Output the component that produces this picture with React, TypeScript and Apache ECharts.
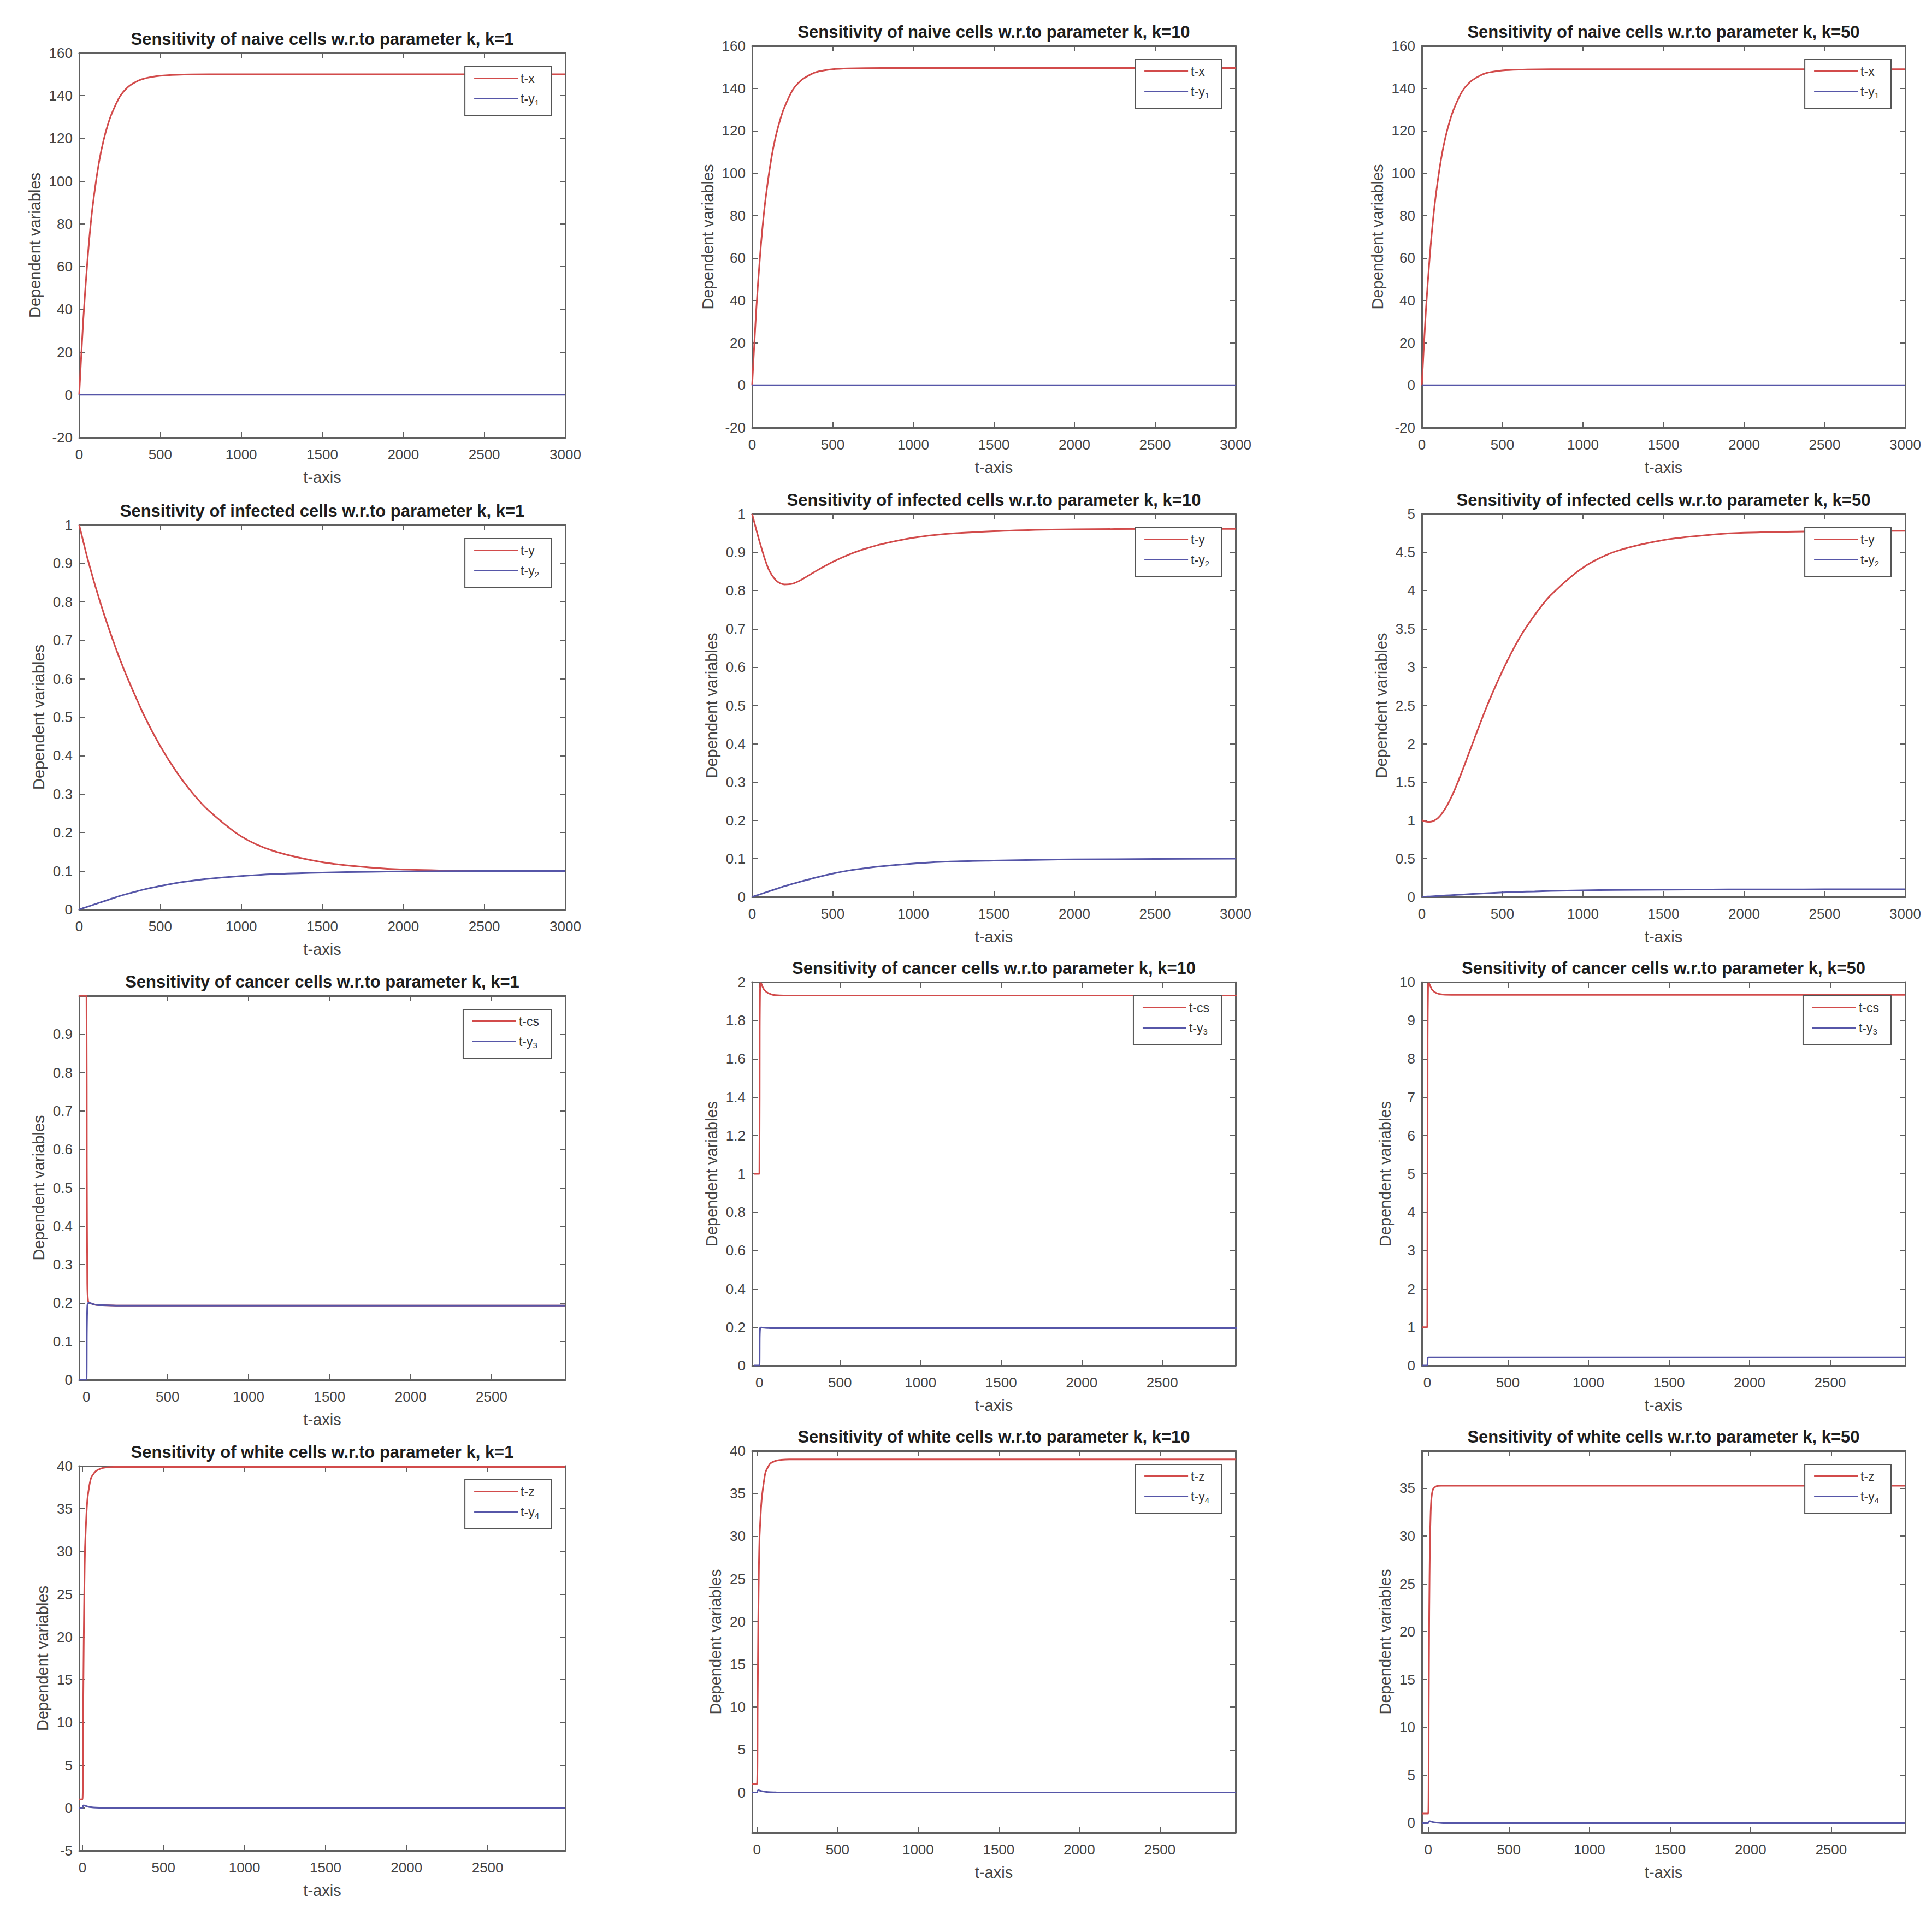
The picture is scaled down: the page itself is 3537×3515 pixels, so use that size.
import React, { useEffect, useRef } from 'react';
import * as echarts from 'echarts';

const W = 3537;
const H = 3515;

// ---------- tick labels ----------
const xTicks3000 = [0, 500, 1000, 1500, 2000, 2500, 3000];
const xTicks2500 = [0, 500, 1000, 1500, 2000, 2500];
const yTicksNaive = [-20, 0, 20, 40, 60, 80, 100, 120, 140, 160];
const yTicksInf01 = [0, 0.1, 0.2, 0.3, 0.4, 0.5, 0.6, 0.7, 0.8, 0.9, 1];
const yTicksInf50 = [0, 0.5, 1, 1.5, 2, 2.5, 3, 3.5, 4, 4.5, 5];
const yTicksCancer1 = [0, 0.1, 0.2, 0.3, 0.4, 0.5, 0.6, 0.7, 0.8, 0.9];
const yTicksCancer10 = [0, 0.2, 0.4, 0.6, 0.8, 1, 1.2, 1.4, 1.6, 1.8, 2];
const yTicksCancer50 = [0, 1, 2, 3, 4, 5, 6, 7, 8, 9, 10];
const yTicksWhite1 = [-5, 0, 5, 10, 15, 20, 25, 30, 35, 40];
const yTicksWhite10 = [0, 5, 10, 15, 20, 25, 30, 35, 40];
const yTicksWhite50 = [0, 5, 10, 15, 20, 25, 30, 35];

// ---------- row 1: naive cells ----------
const tNaive = [0, 25, 50, 75, 100, 125, 150, 175, 200, 250, 300, 350, 400, 500, 600, 800, 1000, 1500, 2000, 2500, 3000];
const naiveX_k1 = [0, 35, 62, 83, 98, 110, 119, 126, 131.5, 139.5, 144, 146.5, 148, 149.3, 149.8, 150, 150, 150, 150, 150, 150];
const naiveY1_k1 = [0, 0, 0, 0, 0, 0, 0, 0, 0, 0, 0, 0, 0, 0, 0, 0, 0, 0, 0, 0, 0];
const naiveX_k10 = [0, 35, 62, 82.5, 97.5, 109.5, 118.5, 125.5, 131, 139, 143.5, 146, 147.7, 149, 149.4, 149.6, 149.6, 149.6, 149.6, 149.6, 149.6];
const naiveY1_k10 = [0, 0, 0, 0, 0, 0, 0, 0, 0, 0, 0, 0, 0, 0, 0, 0, 0, 0, 0, 0, 0];
const naiveX_k50 = [0, 35, 61.5, 82, 97, 109, 118, 125, 130.5, 138.5, 143, 145.5, 147.2, 148.4, 148.8, 149, 149, 149, 149, 149, 149];
const naiveY1_k50 = [0, 0, 0, 0, 0, 0, 0, 0, 0, 0, 0, 0, 0, 0, 0, 0, 0, 0, 0, 0, 0];

// ---------- row 2: infected cells ----------
const tInf = [0, 25, 50, 100, 150, 200, 250, 300, 400, 500, 600, 700, 800, 1000, 1200, 1500, 1800, 2000, 2500, 3000];
const infY_k1 = [1, 0.957, 0.915, 0.84, 0.772, 0.71, 0.652, 0.6, 0.505, 0.425, 0.358, 0.302, 0.257, 0.19, 0.152, 0.123, 0.109, 0.104, 0.1, 0.099];
const infY2_k1 = [0, 0.0035, 0.007, 0.014, 0.021, 0.028, 0.035, 0.041, 0.052, 0.061, 0.069, 0.075, 0.08, 0.087, 0.092, 0.096, 0.098, 0.099, 0.1, 0.1];
const infY_k10 = [1, 0.96, 0.922, 0.858, 0.826, 0.816, 0.818, 0.827, 0.852, 0.875, 0.894, 0.909, 0.921, 0.938, 0.948, 0.955, 0.959, 0.96, 0.961, 0.961];
const infY2_k10 = [0, 0.0035, 0.007, 0.014, 0.021, 0.028, 0.034, 0.04, 0.051, 0.061, 0.069, 0.075, 0.08, 0.087, 0.092, 0.095, 0.097, 0.098, 0.099, 0.1];
const infY_k50 = [1, 0.985, 0.98, 1.03, 1.17, 1.38, 1.64, 1.92, 2.47, 2.95, 3.36, 3.68, 3.94, 4.3, 4.51, 4.66, 4.73, 4.755, 4.775, 4.78];
const infY2_k50 = [0, 0.003, 0.006, 0.012, 0.019, 0.025, 0.031, 0.037, 0.048, 0.058, 0.066, 0.072, 0.078, 0.086, 0.091, 0.095, 0.097, 0.098, 0.099, 0.1];

// ---------- row 3: cancer cells ----------
const tCancer_k1 = [-45, 0, 2, 5, 10, 20, 40, 60, 100, 200, 500, 1000, 2000, 2955];
const cs_k1 = [1, 1, 0.55, 0.25, 0.205, 0.2, 0.197, 0.195, 0.194, 0.193, 0.193, 0.193, 0.193, 0.193];
const y3_k1 = [0, 0, 0.12, 0.19, 0.2, 0.2, 0.197, 0.195, 0.194, 0.193, 0.193, 0.193, 0.193, 0.193];
const tCancer_k10 = [-35, 0, 2, 5, 10, 20, 30, 50, 75, 100, 150, 200, 500, 1000, 2000, 2965];
const cs_k10 = [1, 1, 1.75, 1.99, 1.995, 1.975, 1.96, 1.945, 1.936, 1.932, 1.93, 1.93, 1.93, 1.93, 1.93, 1.93];
const y3_k10 = [0, 0, 0.15, 0.198, 0.199, 0.198, 0.197, 0.196, 0.195, 0.195, 0.195, 0.195, 0.195, 0.195, 0.195, 0.195];
const tCancer_k50 = [-34, 0, 2, 5, 10, 20, 30, 50, 75, 100, 150, 200, 500, 1000, 2000, 2966];
const cs_k50 = [1, 1, 8.5, 9.95, 9.97, 9.88, 9.8, 9.73, 9.69, 9.675, 9.67, 9.67, 9.67, 9.67, 9.67, 9.67];
const y3_k50 = [0, 0, 0.17, 0.21, 0.21, 0.21, 0.21, 0.21, 0.21, 0.21, 0.21, 0.21, 0.21, 0.21, 0.21, 0.21];

// ---------- row 4: white cells ----------
const tWhite_k1 = [-20, 0, 4, 8, 12, 16, 25, 33, 53, 82, 120, 150, 200, 500, 1000, 2000, 2980];
const z_k1 = [1, 1, 10, 19.5, 26, 30.5, 34.5, 36.5, 38.6, 39.4, 39.75, 39.85, 39.9, 39.9, 39.9, 39.9, 39.9];
const y4_k1 = [0, 0, 0.25, 0.3, 0.28, 0.25, 0.2, 0.15, 0.08, 0.03, 0.01, 0, 0, 0, 0, 0, 0];
const tWhite_k10 = [-30, 0, 4, 8, 12, 16, 25, 33, 53, 82, 120, 150, 200, 500, 1000, 2000, 2970];
const z_k10 = [1, 1, 10, 20, 26.5, 30, 33.3, 35, 37.5, 38.5, 38.85, 38.95, 39, 39, 39, 39, 39];
const y4_k10 = [0, 0, 0.2, 0.25, 0.25, 0.22, 0.18, 0.14, 0.08, 0.03, 0.01, 0, 0, 0, 0, 0, 0];
const tWhite_k50 = [-40, 0, 3, 6, 10, 15, 20, 30, 50, 80, 120, 200, 500, 1000, 2000, 2960];
const z_k50 = [1, 1, 12, 22, 29, 32.5, 34, 34.9, 35.2, 35.25, 35.25, 35.25, 35.25, 35.25, 35.25, 35.25];
const y4_k50 = [0, 0, 0.15, 0.2, 0.2, 0.18, 0.15, 0.1, 0.05, 0.02, 0, 0, 0, 0, 0, 0];

// ---------- axis limits ----------
const xLim = [
  [0, 3000], [0, 3000], [0, 3000],
  [0, 3000], [0, 3000], [0, 3000],
  [-45, 2955], [-45, 2955], [-34, 2966],
  [-20, 2980], [-30, 2970], [-40, 2960],
];
const yLim = [
  [-20, 160], [-20, 160], [-20, 160],
  [0, 1], [0, 1], [0, 5],
  [0, 1], [0, 2], [0, 10],
  [-5, 40], [-4.7, 40], [-1, 38.9],
];

const cellTypes = ['naive', 'naive', 'naive', 'infected', 'infected', 'infected', 'cancer', 'cancer', 'cancer', 'white', 'white', 'white'];
const kValues = [1, 10, 50, 1, 10, 50, 1, 10, 50, 1, 10, 50];
const redNames = ['t-x', 't-x', 't-x', 't-y', 't-y', 't-y', 't-cs', 't-cs', 't-cs', 't-z', 't-z', 't-z'];
const blueNames = ['t-y1', 't-y1', 't-y1', 't-y2', 't-y2', 't-y2', 't-y3', 't-y3', 't-y3', 't-y4', 't-y4', 't-y4'];

const tData = [tNaive, tNaive, tNaive, tInf, tInf, tInf, tCancer_k1, tCancer_k10, tCancer_k50, tWhite_k1, tWhite_k10, tWhite_k50];
const redData = [naiveX_k1, naiveX_k10, naiveX_k50, infY_k1, infY_k10, infY_k50, cs_k1, cs_k10, cs_k50, z_k1, z_k10, z_k50];
const blueData = [naiveY1_k1, naiveY1_k10, naiveY1_k50, infY2_k1, infY2_k10, infY2_k50, y3_k1, y3_k10, y3_k50, y4_k1, y4_k10, y4_k50];
const xTickSets = [xTicks3000, xTicks3000, xTicks3000, xTicks3000, xTicks3000, xTicks3000, xTicks2500, xTicks2500, xTicks2500, xTicks2500, xTicks2500, xTicks2500];
const yTickSets = [yTicksNaive, yTicksNaive, yTicksNaive, yTicksInf01, yTicksInf01, yTicksInf50, yTicksCancer1, yTicksCancer10, yTicksCancer50, yTicksWhite1, yTicksWhite10, yTicksWhite50];

// ---------- layout (pixels) ----------
const colLeft = [145, 1377, 2603];
const colRight = [1035, 2262, 3488];
const plotTop = [97, 84, 84, 961, 941, 941, 1823, 1798, 1798, 2684, 2656, 2656];
const plotBottom = [801, 783, 783, 1665, 1642, 1642, 2526, 2500, 2500, 3388, 3355, 3355];
const yNameGap = [67, 67, 67, 60, 60, 60, 60, 60, 53, 53, 53, 53];

const FONT = '"Liberation Sans", Arial, Helvetica, sans-serif';
const RED = '#d24b4b';
const BLUE = '#5656a8';
const AXIS = '#606060';
const TICK = '#444444';
const TEXT = '#1e1e1e';

const fmt = (v: number) => String(Math.round(v * 1000) / 1000);

function buildOption() {
  const grid: any[] = [];
  const xAxis: any[] = [];
  const yAxis: any[] = [];
  const series: any[] = [];
  const title: any[] = [];
  const legend: any[] = [];

  for (let i = 0; i < 12; i++) {
    const c = i % 3;
    const l = colLeft[c];
    const r = colRight[c];
    const t = plotTop[i];
    const b = plotBottom[i];
    grid.push({ left: l, top: t, width: r - l, height: b - t, outerBoundsMode: 'none', containLabel: false });

    const axisLine = { show: true, onZero: false, lineStyle: { color: AXIS, width: 3 } };
    const tickStyle = { color: AXIS, width: 2 };

    xAxis.push({
      gridIndex: i, type: 'value', position: 'bottom', min: xLim[i][0], max: xLim[i][1],
      axisLine,
      axisTick: { show: true, inside: true, length: 10, customValues: xTickSets[i], lineStyle: tickStyle },
      axisLabel: { show: true, customValues: xTickSets[i], formatter: fmt, margin: 18, fontSize: 26, color: TICK, fontFamily: FONT },
      splitLine: { show: false },
      name: 't-axis', nameLocation: 'middle', nameGap: 58,
      nameTextStyle: { fontSize: 29, color: TICK, fontFamily: FONT },
    });
    xAxis.push({
      gridIndex: i, type: 'value', position: 'top', min: xLim[i][0], max: xLim[i][1],
      axisLine,
      axisTick: { show: true, inside: true, length: 10, customValues: xTickSets[i], lineStyle: tickStyle },
      axisLabel: { show: false },
      splitLine: { show: false },
    });
    yAxis.push({
      gridIndex: i, type: 'value', position: 'left', min: yLim[i][0], max: yLim[i][1],
      axisLine,
      axisTick: { show: true, inside: true, length: 10, customValues: yTickSets[i], lineStyle: tickStyle },
      axisLabel: { show: true, customValues: yTickSets[i], formatter: fmt, margin: 12, fontSize: 26, color: TICK, fontFamily: FONT },
      splitLine: { show: false },
      name: 'Dependent variables', nameLocation: 'middle', nameGap: yNameGap[i], nameRotate: 90,
      nameTextStyle: { fontSize: 29, color: TICK, fontFamily: FONT },
    });
    yAxis.push({
      gridIndex: i, type: 'value', position: 'right', min: yLim[i][0], max: yLim[i][1],
      axisLine,
      axisTick: { show: true, inside: true, length: 10, customValues: yTickSets[i], lineStyle: tickStyle },
      axisLabel: { show: false },
      splitLine: { show: false },
    });

    const ts = tData[i];
    const smooth = i < 6 ? 0.3 : 0.2;
    series.push({
      type: 'line', name: redNames[i], xAxisIndex: 2 * i, yAxisIndex: 2 * i,
      data: ts.map((tt, j) => [tt, redData[i][j]]),
      showSymbol: false, symbol: 'none', smooth, clip: true, silent: true,
      color: RED, lineStyle: { width: 3, color: RED }, itemStyle: { color: RED },
    });
    series.push({
      type: 'line', name: blueNames[i], xAxisIndex: 2 * i, yAxisIndex: 2 * i,
      data: ts.map((tt, j) => [tt, blueData[i][j]]),
      showSymbol: false, symbol: 'none', smooth, clip: true, silent: true,
      color: BLUE, lineStyle: { width: 3, color: BLUE }, itemStyle: { color: BLUE },
    });

    title.push({
      text: `Sensitivity of ${cellTypes[i]} cells w.r.to parameter k, k=${kValues[i]}`,
      left: (l + r) / 2, top: t - 41, textAlign: 'center', padding: 0,
      textStyle: { fontSize: 31, fontWeight: 'bold', color: TEXT, fontFamily: FONT },
    });

    legend.push({
      data: [redNames[i], blueNames[i]],
      orient: 'vertical', right: W - (r - 26), top: t + 25,
      icon: 'rect', itemWidth: 80, itemHeight: 3, itemGap: 14,
      padding: [10, 22, 17, 17],
      backgroundColor: '#ffffff', borderColor: '#555555', borderWidth: 2,
      selectedMode: false,
      formatter: (name: string) => {
        const m = name.match(/^(.*?)(\d)$/);
        return m ? `{n|${m[1]}}{s|${m[2]}}` : `{n|${name}}`;
      },
      textStyle: {
        color: '#333333', fontFamily: FONT, fontSize: 23,
        rich: {
          n: { fontSize: 23, lineHeight: 28, fontFamily: FONT, color: '#333333' },
          s: { fontSize: 15, lineHeight: 15, verticalAlign: 'bottom', fontFamily: FONT, color: '#333333' },
        },
      },
    });
  }

  return { animation: false, backgroundColor: '#ffffff', grid, xAxis, yAxis, series, title, legend };
}

export default function App() {
  const ref = useRef<HTMLDivElement>(null);
  useEffect(() => {
    document.body.style.margin = '0';
    const chart = echarts.init(ref.current as HTMLDivElement, undefined, { renderer: 'svg', width: W, height: H });
    chart.setOption(buildOption() as any);
    return () => {
      chart.dispose();
    };
  }, []);
  return <div ref={ref} style={{ width: W, height: H, background: '#fff' }} />;
}
